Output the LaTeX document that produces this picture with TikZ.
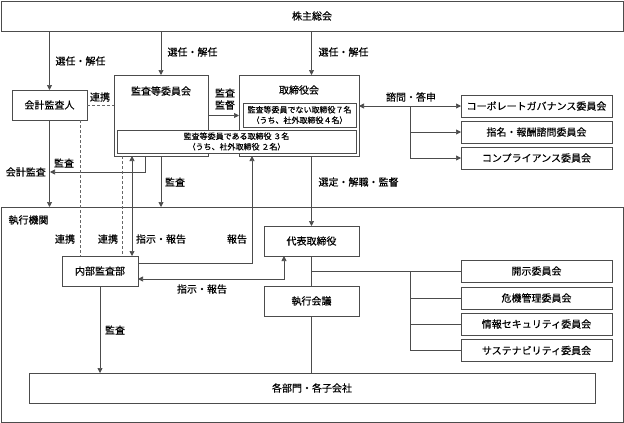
\documentclass[tikz,border=0pt]{standalone}
\usepackage{fontspec}
\setmainfont{Noto Sans CJK JP}[FakeBold=0.4]
\usetikzlibrary{arrows.meta}

\begin{document}
\begin{tikzpicture}[x=1pt,y=-1pt,font=\fontsize{10}{12}\selectfont,
  box/.style={draw=black!70,line width=0.7pt,inner sep=0pt,outer sep=0pt},
  small/.style={font=\fontsize{8}{10.5}\selectfont},
  arr/.style={-{Triangle[length=5pt,width=5pt]},draw=black!70,line width=0.7pt},
  darr/.style={{Triangle[length=5pt,width=5pt]}-{Triangle[length=5pt,width=5pt]},draw=black!70,line width=0.7pt},
  ln/.style={draw=black!70,line width=0.7pt},
  dln/.style={draw=black!60,line width=0.7pt,dash pattern=on 3pt off 2pt}]
\useasboundingbox (0,0) rectangle (624,423);

% boxes
\node[box,minimum width=622pt,minimum height=30pt] (kabunushi) at (312,16) {株主総会};
\node[box,minimum width=622pt,minimum height=215pt] (shikko) at (312,314.5) {};
\node[anchor=west] (shikkot) at (5,220) {執行機関};
\node[box,minimum width=75pt,minimum height=30pt] (kaikei) at (49.5,105) {会計監査人};
\node[box,minimum width=94pt,minimum height=81pt] (kansa) at (161,115.5) {};
\node (kansat) at (161,91) {監査等委員会};
\node[box,minimum width=120pt,minimum height=81pt] (tori) at (299,115.5) {};
\node (torit) at (299,90) {取締役会};
\node[box,small,align=center,minimum width=113pt,minimum height=24pt] (shagai) at (299.5,115) {監査等委員でない取締役７名\\（うち、社外取締役４名）};
\node[box,small,fill=white,align=center,minimum width=239pt,minimum height=23pt] (kansatori) at (236.5,141.5) {監査等委員である取締役 ３名\\（うち、社外取締役 ２名）};

% committees
\node[box,minimum width=151pt,minimum height=22pt] (cg) at (536.5,106) {コーポレートガバナンス委員会};
\node[box,minimum width=151pt,minimum height=22pt] (shimei) at (536.5,132) {指名・報酬諮問委員会};
\node[box,minimum width=151pt,minimum height=22pt] (comp) at (536.5,158) {コンプライアンス委員会};
\node[box,minimum width=151pt,minimum height=22pt] (kaiji) at (536.5,271) {開示委員会};
\node[box,minimum width=151pt,minimum height=22pt] (kiki) at (536.5,298) {危機管理委員会};
\node[box,minimum width=151pt,minimum height=22pt] (joho) at (536.5,324) {情報セキュリティ委員会};
\node[box,minimum width=151pt,minimum height=22pt] (sus) at (536.5,350.5) {サステナビリティ委員会};

% execution
\node[box,minimum width=76pt,minimum height=30pt] (naibu) at (100,271) {内部監査部};
\node[box,minimum width=95pt,minimum height=30pt] (daihyo) at (311.5,241) {代表取締役};
\node[box,minimum width=95pt,minimum height=30pt] (kaigi) at (311.5,301) {執行会議};
\node[box,minimum width=566pt,minimum height=30pt] (kakubu) at (312,388) {各部門・各子会社};
\node[anchor=east,inner sep=4pt] (kkansa) at (50,172) {会計監査};
\coordinate (sj) at (410,0);

% connectors
\draw[arr] (kaikei.north |- kabunushi.south) -- (kaikei.north);
\draw[arr] (kansa.north |- kabunushi.south) -- (kansa.north);
\draw[arr] (daihyo.north |- kabunushi.south) -- (daihyo.north |- tori.north);
\draw[dln] (kaikei.east) -- (kaikei.east -| kansa.west);
\draw[arr] (kansa.east) -- (kansa.east -| tori.west);
\draw[darr] (tori.east |- cg.west) -- (cg.west);
\draw[arr] (sj |- cg.west) |- (shimei.west);
\draw[arr] (sj |- cg.west) |- (comp.west);
\draw[arr] (kaikei.south) -- (kaikei.south |- shikko.north);
\draw[arr] ([xshift=-16pt]kansa.south) |- (kkansa.east);
\draw[arr] (kansa.south) -- (kansa.south |- shikko.north);
\draw[dln] ([xshift=-20pt]naibu.north |- kaikei.south) -- ([xshift=-20pt]naibu.north);
\draw[dln] ([xshift=22pt]naibu.north |- kansa.south) -- ([xshift=22pt]naibu.north);
\draw[darr] ([xshift=32pt]naibu.north |- kansa.south) -- ([xshift=32pt]naibu.north);
\draw[arr] ([yshift=8pt]naibu.east) -| ([xshift=13pt]tori.south west);
\draw[darr] ([yshift=-8pt]naibu.east) -| ([xshift=20pt]daihyo.south west);
\draw[arr] (tori.south -| daihyo.north) -- (daihyo.north);
\draw[ln] (daihyo.south) -- (kaigi.north);
\draw[ln] (kaigi.south) -- (kaigi.south |- kakubu.north);
\draw[ln] (kaiji.west -| daihyo.south) -- (kaiji.west);
\draw[ln] (sj |- kaiji.west) |- (kiki.west);
\draw[ln] (sj |- kaiji.west) |- (joho.west);
\draw[ln] (sj |- kaiji.west) |- (sus.west);
\draw[arr] (naibu.south) -- (naibu.south |- kakubu.north);

% labels
\node[anchor=west] (l1) at (52,61) {選任・解任};
\node[anchor=west] (l2) at (164,52) {選任・解任};
\node[anchor=west] (l3) at (315,52) {選任・解任};
\node (l4) at (100,97) {連携};
\node[align=center] (l5) at (225,99) {監査\\監督};
\node (l6) at (411,97) {諮問・答申};
\node (l7) at (64,163) {監査};
\node (l8) at (175,182) {監査};
\node[anchor=west] (l9) at (315,182) {選定・解職・監督};
\node (l10) at (65,239) {連携};
\node (l11) at (108,239) {連携};
\node (l12) at (161,239) {指示・報告};
\node (l13) at (237,239) {報告};
\node (l14) at (202,289) {指示・報告};
\node (l15) at (115,330) {監査};
\end{tikzpicture}
\end{document}
